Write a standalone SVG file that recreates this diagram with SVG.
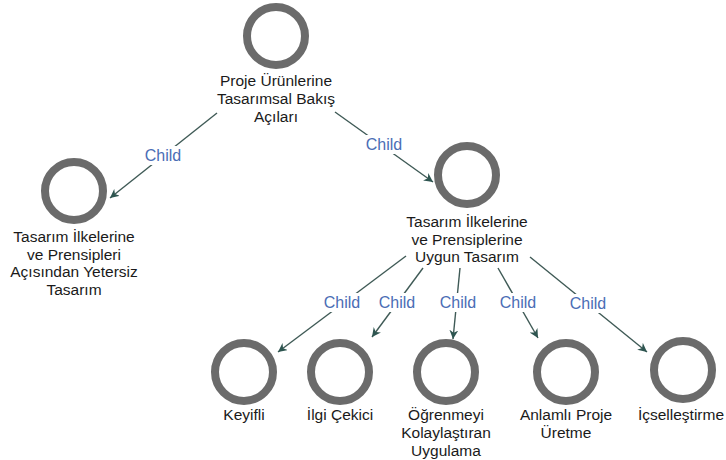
<svg xmlns="http://www.w3.org/2000/svg" width="726" height="460" viewBox="0 0 726 460">
<defs>
<style>
.node circle{fill:#fff;stroke:#6b6b6b;stroke-width:8}
.node text{font-family:"Liberation Sans",Arial,sans-serif;font-size:15.5px;fill:#1a1a1a;text-anchor:middle}
.edge{stroke:#3f5a56;stroke-width:1.4;fill:none;marker-end:url(#arr)}
.lbl{font-family:"Liberation Sans",Arial,sans-serif;font-size:16px;fill:#4a6db5;text-anchor:middle}
</style>
<marker id="arr" viewBox="0 0 10 10" refX="10" refY="5" markerWidth="9" markerHeight="9" markerUnits="userSpaceOnUse" orient="auto">
<path d="M0,0 L10,5 L0,10 L3,5 z" fill="#2e5550"/>
</marker>
</defs>
<rect width="726" height="460" fill="#fff"/>
<g id="connectors">
<line class="edge" x1="217" y1="113" x2="110" y2="198"/>
<line class="edge" x1="335" y1="112" x2="433" y2="182"/>
<line class="edge" x1="406" y1="256" x2="278" y2="352"/>
<line class="edge" x1="423" y1="268" x2="372" y2="337"/>
<line class="edge" x1="460" y1="268" x2="453" y2="339"/>
<line class="edge" x1="498" y1="268" x2="538" y2="338"/>
<line class="edge" x1="530" y1="257" x2="647" y2="352"/>
<g id="labels">
<rect x="144" y="146" width="38" height="19" fill="#fff"/>
<text class="lbl" x="163" y="161">Child</text>
<rect x="365" y="135" width="38" height="19" fill="#fff"/>
<text class="lbl" x="384" y="150">Child</text>
<rect x="323" y="293" width="38" height="19" fill="#fff"/>
<text class="lbl" x="342" y="308">Child</text>
<rect x="378" y="293" width="38" height="19" fill="#fff"/>
<text class="lbl" x="397" y="308">Child</text>
<rect x="439" y="293" width="38" height="19" fill="#fff"/>
<text class="lbl" x="458" y="308">Child</text>
<rect x="499" y="293" width="38" height="19" fill="#fff"/>
<text class="lbl" x="518" y="308">Child</text>
<rect x="569" y="294" width="38" height="19" fill="#fff"/>
<text class="lbl" x="588" y="309">Child</text>
</g>
</g>
<g id="n-root" class="node">
<circle cx="276" cy="36" r="29"/>
<text x="276" y="86">Proje Ürünlerine</text>
<text x="276" y="104">Tasarımsal Bakış</text>
<text x="276" y="122">Açıları</text>
</g>
<g id="n-yetersiz" class="node">
<circle cx="74" cy="191" r="29"/>
<text x="74" y="242">Tasarım İlkelerine</text>
<text x="74" y="259.5">ve Prensipleri</text>
<text x="74" y="277">Açısından Yetersiz</text>
<text x="74" y="294.5">Tasarım</text>
</g>
<g id="n-uygun" class="node">
<circle cx="467" cy="175" r="29"/>
<text x="467" y="227">Tasarım İlkelerine</text>
<text x="467" y="245">ve Prensiplerine</text>
<text x="467" y="262">Uygun Tasarım</text>
</g>
<g id="n-keyifli" class="node">
<circle cx="244" cy="372" r="29"/>
<text x="244" y="420">Keyifli</text>
</g>
<g id="n-ilgi" class="node">
<circle cx="340" cy="372" r="29"/>
<text x="340" y="420">İlgi Çekici</text>
</g>
<g id="n-ogrenmeyi" class="node">
<circle cx="446" cy="372" r="29"/>
<text x="446" y="420">Öğrenmeyi</text>
<text x="446" y="438">Kolaylaştıran</text>
<text x="446" y="456">Uygulama</text>
</g>
<g id="n-anlamli" class="node">
<circle cx="566" cy="372" r="29"/>
<text x="566" y="420">Anlamlı Proje</text>
<text x="566" y="438">Üretme</text>
</g>
<g id="n-icsel" class="node">
<circle cx="683" cy="370" r="29"/>
<text x="681" y="420">İçselleştirme</text>
</g>
</svg>
